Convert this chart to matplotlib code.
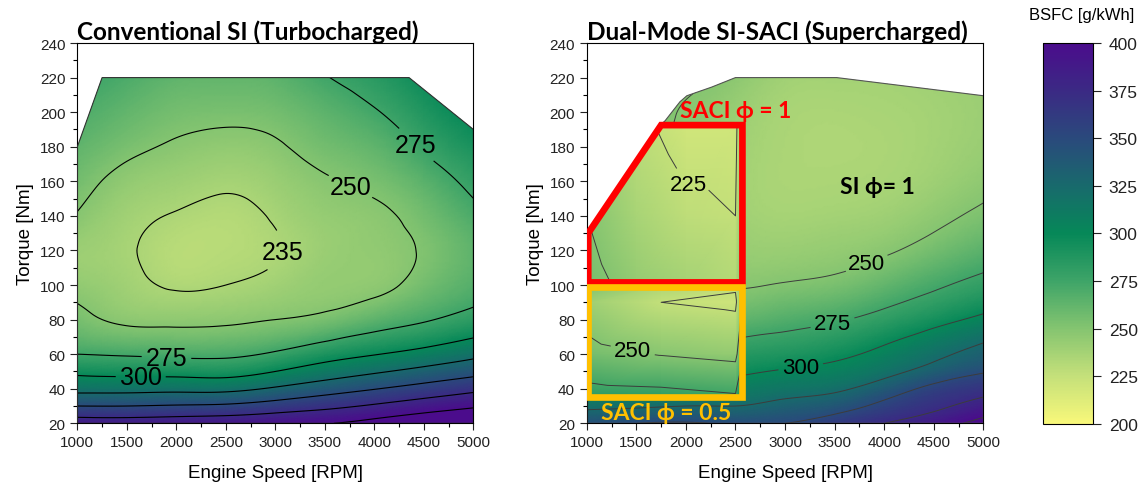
import matplotlib
matplotlib.use("Agg")
import matplotlib.pyplot as plt
import matplotlib.tri as mtri
import numpy as np
from matplotlib.colors import LinearSegmentedColormap, Normalize
from matplotlib.cm import ScalarMappable
from matplotlib.patches import Polygon

plt.rcParams['font.family'] = ['Liberation Sans', 'DejaVu Sans']
bold_family = ['Lato', 'DejaVu Sans']

# colour scale of the BSFC maps
scale_values = [200, 225, 250, 275, 300, 325, 350, 375, 400]
scale_colors = ['#f8f87a', '#c4e07a', '#84c470', '#3ea468', '#068858',
                '#186a6c', '#2a4a7c', '#3b2a84', '#4b0c8c']

speed = [1000, 1500, 2000, 2500, 3000, 3500, 4000, 4500, 5000]
torque = [20, 30, 40, 50, 60, 80, 100, 120, 140, 160, 180, 200, 220]

# conventional SI, BSFC [g/kWh], one row per torque
bsfc_si_turbo = [
    [389, 388, 390, 392, 396, 399, 408, 418, 425],
    [350, 350, 352, 354, 361, 369, 378, 388, 397],
    [318, 318, 319, 319, 328, 339, 349, 359, 369],
    [295, 293, 292, 291, 300, 312, 322, 332, 342],
    [275, 273, 271, 271, 278, 290, 299, 308, 319],
    [255, 247, 246, 247, 250, 254.5, 264, 273, 283],
    [245, 239, 233.5, 235, 239, 244, 246, 256, 267],
    [241, 236.5, 230, 230.5, 234, 241.5, 245, 251.5, 263.5],
    [249, 239, 234, 231.5, 236.5, 243.5, 247, 256, 270],
    [256, 245, 240.5, 237.5, 241.5, 248.5, 254, 265, 280],
    [263, 254, 248, 245, 248, 256, 263, 277, 291],
    [270, 262, 255.5, 254, 256, 264, 273.5, 288, 303],
    [277, 270, 263, 262, 264, 274, 284, 298, 315],
]
turbo_env_speed = [1000, 5000, 5000, 4350, 1250, 1000]
turbo_env_torque = [20, 20, 190, 220, 220, 180]

# dual-mode engine, SI part
bsfc_si_super = [
    [345, 350, 352, 348, 350, 362, 375, 389, 408],
    [320, 322, 325, 325, 332, 340, 356, 370, 385],
    [300, 302, 304, 310, 316, 321, 337, 356, 367],
    [285, 287, 290, 296, 302, 307, 318, 334, 348],
    [275, 276, 278, 285, 289, 295, 306, 320, 333],
    [262, 262, 262, 263, 268, 273, 282, 293, 305],
    [255, 254, 252, 249, 251, 254, 262, 272, 281],
    [255, 252, 248, 243, 242, 244, 248, 256, 265],
    [258, 253, 247, 240, 237, 238, 240, 246, 253],
    [262, 254, 247, 239, 235, 235, 236, 240, 246],
    [266, 255, 248, 240, 235, 234, 235, 238, 242],
    [270, 256, 249, 242, 236, 235, 236, 238, 241],
    [274, 260, 253, 247, 239, 238, 238, 240, 242],
]
super_env_speed = [1000, 5000, 5000, 3520, 2500, 2260, 2010, 1940, 1790, 1750, 1000]
super_env_torque = [20, 20, 209.5, 220, 220, 214.5, 209.5, 206, 195, 193, 130]

# SACI phi = 1 zone
saci1_speed = [1000, 1500, 2000, 2500, 2570]
saci1_torque = [100, 140, 195]
bsfc_saci1 = [
    [256, 244, 238, 232, 252],
    [250, 236, 228, 225, 250],
    [244, 228, 219, 219, 246],
]
saci1_zone_speed = [1015, 1750, 2570, 2570, 1015]
saci1_zone_torque = [130, 192.5, 192.5, 101.5, 101.5]

# SACI phi = 0.5 zone
saci05_speed = [1000, 1750, 2500, 2570]
saci05_torque = [35, 60, 90, 100]
bsfc_saci05 = [
    [285, 283, 278, 300],
    [256, 249, 244, 270],
    [240, 225, 221, 250],
    [253, 235, 228, 252],
]
saci05_zone_speed = [1015, 2565, 2565, 1015]
saci05_zone_torque = [35, 35, 98.7, 98.7]

cmap = LinearSegmentedColormap.from_list(
    'bsfc', [((v - 200) / 200, c) for v, c in zip(scale_values, scale_colors)])
norm = Normalize(200, 400)


def grid_mesh(xs, ys, values, smooth):
    # regular grid -> triangulation, optionally refined with cubic interpolation
    x0, x1 = min(xs), max(xs)
    y0, y1 = min(ys), max(ys)
    gx, gy = np.meshgrid(xs, ys)
    u = (gx.ravel() - x0) / (x1 - x0)
    v = (gy.ravel() - y0) / (y1 - y0)
    nx = len(xs)
    cells = []
    for j in range(len(ys) - 1):
        for i in range(nx - 1):
            a = j * nx + i
            cells.append([a, a + 1, a + nx + 1])
            cells.append([a, a + nx + 1, a + nx])
    tri = mtri.Triangulation(u, v, cells)
    z = np.asarray(values, float).ravel()
    if smooth:
        tri, z = mtri.UniformTriRefiner(tri).refine_field(z, subdiv=4)
    out = mtri.Triangulation(tri.x * (x1 - x0) + x0, tri.y * (y1 - y0) + y0, tri.triangles)
    return out, z


def draw_map(ax, xs, ys, values, clip_x, clip_y, levels, smooth, lcolor, lw, z0):
    tri, z = grid_mesh(xs, ys, values, smooth)
    clip = Polygon(np.column_stack([clip_x, clip_y]), closed=True,
                   transform=ax.transData, facecolor='none')
    pc = ax.tripcolor(tri, z, shading='gouraud', cmap=cmap, norm=norm, zorder=z0)
    pc.set_clip_path(clip)
    cs = ax.tricontour(tri, z, levels=levels, colors=lcolor, linewidths=lw, zorder=z0 + 0.5)
    cs.set_clip_path(clip)
    return cs


def add_labels(ax, cs, spots, size):
    ax.clabel(cs, manual=spots, inline=True, inline_spacing=4,
              fontsize=size, colors='black', fmt=lambda v: f'{v:.0f}')
    for t in cs.labelTexts:
        t.set_rotation(0)


def style_axes(ax, title):
    ax.set_xlim(1000, 5000)
    ax.set_ylim(20, 240)
    ax.set_xticks(np.arange(1000, 5001, 500))
    ax.set_xticks(np.arange(1000, 5001, 250), minor=True)
    ax.set_yticks(np.arange(20, 241, 20))
    ax.set_yticks(np.arange(20, 241, 10), minor=True)
    ax.tick_params(which='major', direction='out', length=5, width=0.8,
                   labelsize=11, colors='#222222')
    ax.tick_params(which='minor', direction='out', length=3, width=0.8)
    for s in ax.spines.values():
        s.set_linewidth(0.8)
    ax.set_xlabel('Engine Speed [RPM]', fontsize=13.5, labelpad=11)
    ax.set_ylabel('Torque [Nm]', fontsize=13.5, labelpad=4)
    ax.set_title(title, loc='left', fontsize=17.5, fontweight='bold',
                 family=bold_family, pad=3)


fig = plt.figure(figsize=(11.46, 4.89), dpi=100)
ax1 = fig.add_axes([0.0675, 0.1323, 0.3456, 0.7777])
ax2 = fig.add_axes([0.512, 0.1323, 0.3461, 0.7777])
cax = fig.add_axes([0.910, 0.131, 0.0436, 0.779])

# conventional turbocharged SI
cs1 = draw_map(ax1, speed, torque, bsfc_si_turbo, turbo_env_speed, turbo_env_torque,
               [235, 250, 275, 300, 325, 350, 375, 400], True, 'black', 0.8, 1)
ax1.add_patch(Polygon(np.column_stack([turbo_env_speed, turbo_env_torque]), closed=True,
                      facecolor='none', edgecolor='#333333', linewidth=0.8, zorder=3))
add_labels(ax1, cs1, [(3080, 119), (3780, 159), (4400, 180), (1900, 58), (1640, 47)], 18)
style_axes(ax1, 'Conventional SI (Turbocharged)')

# dual-mode supercharged
bsfc_lv = [225, 250, 275, 300, 325, 350, 375, 400]
cs2 = draw_map(ax2, speed, torque, bsfc_si_super, super_env_speed, super_env_torque,
               bsfc_lv, True, '#3c3c3c', 0.7, 1)
ax2.add_patch(Polygon(np.column_stack([super_env_speed, super_env_torque]), closed=True,
                      facecolor='none', edgecolor='#555555', linewidth=0.8, zorder=3))
add_labels(ax2, cs2, [(3845, 110), (3490, 75.5), (3160, 52)], 16)

cs3 = draw_map(ax2, saci1_speed, saci1_torque, bsfc_saci1, saci1_zone_speed,
               saci1_zone_torque, bsfc_lv, False, '#3c3c3c', 0.7, 4)
add_labels(ax2, cs3, [(2030, 144)], 16)
cs4 = draw_map(ax2, saci05_speed, saci05_torque, bsfc_saci05, saci05_zone_speed,
               saci05_zone_torque, bsfc_lv, False, '#3c3c3c', 0.7, 4)
add_labels(ax2, cs4, [(1450, 59)], 16)

ax2.add_patch(Polygon(np.column_stack([saci1_zone_speed, saci1_zone_torque]), closed=True,
                      facecolor='none', edgecolor='#ff0000', linewidth=4.8,
                      joinstyle='miter', zorder=6))
ax2.add_patch(Polygon(np.column_stack([saci05_zone_speed, saci05_zone_torque]), closed=True,
                      facecolor='none', edgecolor='#ffc000', linewidth=4.8,
                      joinstyle='miter', zorder=7))
ax2.text(2500, 201, 'SACI ϕ = 1', color='#ff0000', fontsize=16.5, fontweight='bold',
         family=bold_family, ha='center', va='center', zorder=8)
ax2.text(3930, 157, 'SI ϕ= 1', color='black', fontsize=16.5, fontweight='bold',
         family=bold_family, ha='center', va='center', zorder=8)
ax2.text(1800, 26, 'SACI ϕ = 0.5', color='#ffc000', fontsize=16.5, fontweight='bold',
         family=bold_family, ha='center', va='center', zorder=8)
style_axes(ax2, 'Dual-Mode SI-SACI (Supercharged)')

cb = fig.colorbar(ScalarMappable(norm=norm, cmap=cmap), cax=cax,
                  ticks=np.arange(200, 401, 25))
cb.outline.set_linewidth(0.8)
cax.tick_params(labelsize=12.5, length=5.5, width=0.8, pad=6, colors='#222222')
fig.text(0.944, 0.969, 'BSFC [g/kWh]', ha='center', va='center', fontsize=12)

fig.savefig('out.png', dpi=100)
